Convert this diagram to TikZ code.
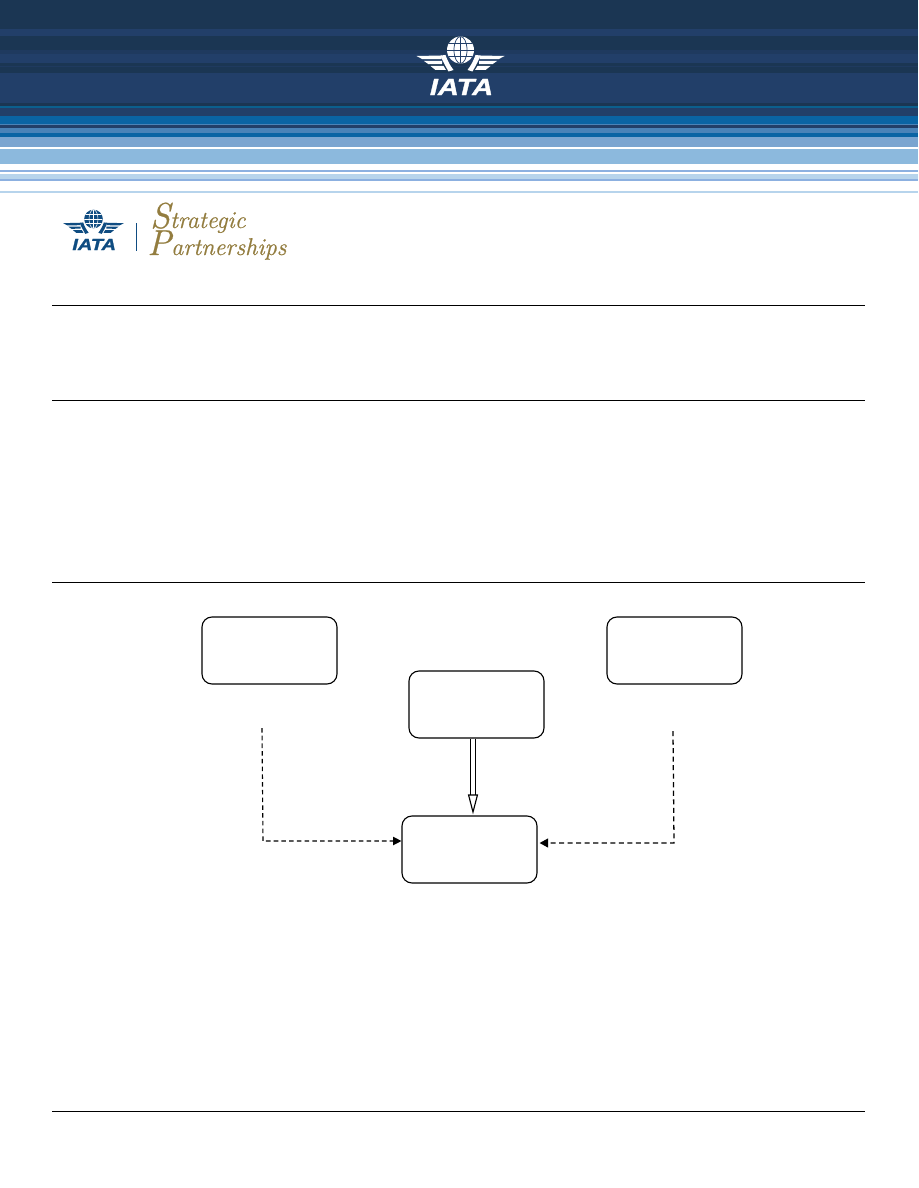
\documentclass[tikz,border=0pt]{standalone}
\usepackage{fontspec}
\setmainfont{Liberation Sans}
\newfontfamily\scriptish[FakeBold=0.6]{Latin Modern Roman}
\newfontfamily\logofont[FakeBold=1.2]{Liberation Sans}
\usetikzlibrary{arrows.meta,calc}
\definecolor{bandDark}{HTML}{1B3653}
\definecolor{bandNavy}{HTML}{223F69}
\definecolor{bandMid}{HTML}{1F3A5F}
\definecolor{bandTeal}{HTML}{0B5F8E}
\definecolor{bandBlue}{HTML}{0A64A4}
\definecolor{bandSteel}{HTML}{4A83B8}
\definecolor{bandSoft}{HTML}{7BA5D0}
\definecolor{bandSky}{HTML}{8CB9DD}
\definecolor{bandLine}{HTML}{8CB0E0}
\definecolor{bandPale}{HTML}{B7D4EC}
\definecolor{logoBlue}{HTML}{0F4C81}
\definecolor{gold}{HTML}{937D3F}
\tikzset{
  x=0.75pt,y=-0.75pt,
  flowbox/.style={draw=black,line width=0.85pt,rounded corners=7.5pt,fill=white,
    minimum width=101.25pt,minimum height=50.25pt,inner sep=0pt},
  rulebar/.style={draw=black,line width=0.75pt},
  dashlink/.style={draw=black,line width=0.85pt,dash pattern=on 3.4pt off 2.4pt,-{Triangle[length=6.2pt,width=6.2pt]}},
  dashlinkb/.style={draw=black,line width=0.95pt,dash pattern=on 3.8pt off 2.6pt,-{Triangle[length=6.5pt,width=6.8pt]}},
  hollowlink/.style={draw=black,line width=0.85pt,double=white,double distance=2.4pt,
    -{Triangle[open,fill=white,length=15pt,width=7.5pt]}},
  goldtext/.style={text=gold,font=\scriptish\itshape,inner sep=0pt,anchor=base west},
}
\newcommand{\band}[3]{\fill[#3] (0,#1) rectangle (918,#2);}
% #1 x, #2 y (globe centre), #3 scale, #4 ink, #5 ground
\newcommand{\iatalogo}[5]{%
  \begin{scope}[shift={(#1,#2)},scale=#3]
    \foreach \s in {1,-1}{
      \begin{scope}[xscale=\s]
        \fill[#4] (-44,6) -- (-19,5.5) -- (-19,9) -- (-38,9.2) -- cycle;
        \fill[#4] (-36.5,11) -- (-18.5,11) -- (-18.5,14) -- (-32,14.2) -- cycle;
        \fill[#4] (-30,16) -- (-17,16) -- (-14.5,20) -- (-25,20) -- cycle;
        \fill[#4] (-20,5.5) -- (-15,5) .. controls (-13,11) and (-10,16) .. (-7,20) -- (-12,21.5) .. controls (-15,16) and (-18,11) .. cycle;
      \end{scope}
    }
    \fill[#4] (0,0) circle (13.5);
    \begin{scope}
      \clip (0,0) circle (13.5);
      \draw[#5,line width=0.55pt*#3] (0,-13.5) -- (0,13.5) (0,0) ellipse (6.5 and 13.5);
      \draw[#5,line width=0.55pt*#3] (-13.5,0) -- (13.5,0) (-13.5,-6.5) -- (13.5,-6.5) (-13.5,6.5) -- (13.5,6.5);
    \end{scope}
    \node[text=#4,font=\logofont\bfseries\itshape,transform shape,xscale=1.24,inner sep=0pt] (logotext#1) at (1,37) {\fontsize{17.5}{17.5}\selectfont IATA};
  \end{scope}}
\begin{document}
\begin{tikzpicture}
\useasboundingbox (0,0) rectangle (918,1188);
\fill[white] (0,0) rectangle (918,1188);
% header stripes
\band{0}{29}{bandDark}
\band{29}{36}{bandNavy}
\band{36}{50}{bandDark}
\band{50}{54}{bandMid}
\band{54}{63}{bandNavy}
\band{63}{66}{bandDark}
\band{66}{67}{bandMid}
\band{67}{73}{bandDark}
\band{73}{103}{bandNavy}
\band{103}{106}{bandDark}
\band{106}{108}{bandTeal}
\band{108}{116}{bandNavy}
\band{116}{124}{bandBlue}
\band{124}{125}{bandSteel}
\band{125}{128}{bandNavy}
\band{128}{133}{bandSteel}
\band{133}{137}{bandBlue}
\band{137}{147}{bandSoft}
\band{148.5}{164}{bandSky}
\band{170}{171.5}{bandLine}
\band{174}{179}{bandPale}
\band{179}{181}{bandLine}
\band{191}{192.5}{bandPale}
% logos
\iatalogo{460.5}{50}{1}{white}{bandNavy}
\iatalogo{93.5}{219}{0.69}{logoBlue}{white}
\fill[logoBlue] (136,223) rectangle (137.2,251);
\node[goldtext] (strat) at (150,228) {\fontsize{18.2}{18.2}\selectfont{\fontsize{27}{27}\selectfont S}trategic};
\node[goldtext] (partn) at (147,255) {\fontsize{18.2}{18.2}\selectfont{\fontsize{27}{27}\selectfont P}artnerships};
% section rules
\coordinate (r1a) at (52,305.5); \coordinate (r1b) at (865,305.5);
\coordinate (r2a) at (52,400.5); \coordinate (r2b) at (865,400.5);
\coordinate (r3a) at (52,582.5); \coordinate (r3b) at (865,582.5);
\coordinate (r4a) at (52,1111.5); \coordinate (r4b) at (865,1111.5);
\draw[rulebar] (r1a) -- (r1b);
\draw[rulebar] (r2a) -- (r2b);
\draw[rulebar] (r3a) -- (r3b);
\draw[rulebar] (r4a) -- (r4b);
% boxes
\node[flowbox] (left) at (269.5,650.5) {};
\node[flowbox] (right) at (674.5,650.5) {};
\node[flowbox] (mid) at (476.5,704.5) {};
\node[flowbox] (sink) at (469.5,849.5) {};
% connectors
\coordinate (leftfree) at (262,728);
\coordinate (leftbend) at (263,841);
\coordinate (rightfree) at (673,731);
\coordinate (rightbend) at (674,843);
\draw[dashlink] (leftfree) -- (leftbend) -- (leftbend -| sink.west);
\draw[dashlinkb] (rightfree) -- (rightbend) -- ($(rightbend -| sink.east)+(2,0)$);
\draw[hollowlink] ($(mid.south)+(-3.5,0)$) -- ($(sink.north)+(3.5,-1)$);
\end{tikzpicture}
\end{document}
